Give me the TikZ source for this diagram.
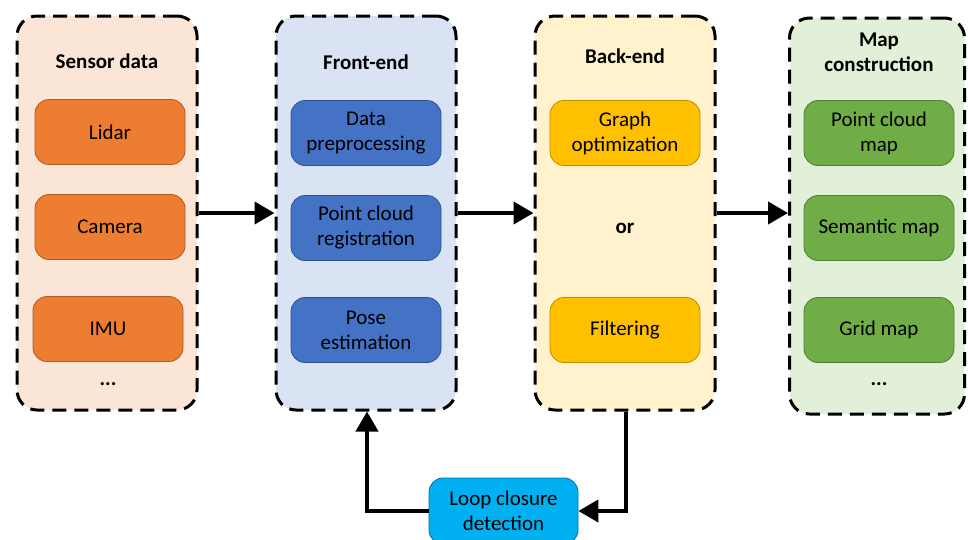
\documentclass[tikz,border=0pt]{standalone}
\usepackage{fontspec}
\setmainfont{Carlito}
\usetikzlibrary{arrows.meta}
\definecolor{sensbg}{HTML}{FBE5D6}
\definecolor{sensin}{HTML}{ED7D31}
\definecolor{sensln}{HTML}{AE5A21}
\definecolor{frontbg}{HTML}{DAE3F3}
\definecolor{frontin}{HTML}{4472C4}
\definecolor{frontln}{HTML}{2F528F}
\definecolor{backbg}{HTML}{FFF2CC}
\definecolor{backin}{HTML}{FFC000}
\definecolor{backln}{HTML}{BC8C00}
\definecolor{mapbg}{HTML}{E2F0D9}
\definecolor{mapin}{HTML}{70AD47}
\definecolor{mapln}{HTML}{507E32}
\definecolor{loopin}{HTML}{00B0F0}
\definecolor{loopln}{HTML}{0070A0}
\tikzset{
  outerbox/.style={draw=black, line width=3pt, dash pattern=on 14pt off 8pt,
    rounded corners=20pt, minimum width=180pt, minimum height=394pt, inner sep=0pt},
  innerbox/.style={line width=0.8pt, rounded corners=14pt, minimum width=150pt,
    minimum height=65pt, align=center, inner sep=0pt,
    font=\fontsize{21pt}{25pt}\selectfont},
  titletext/.style={align=center, font=\fontsize{21pt}{25pt}\selectfont\bfseries},
  flow/.style={line width=4pt, -{Triangle[length=20pt,width=22pt]}},
  plain/.style={line width=4pt}
}
\begin{document}
\begin{tikzpicture}[x=1pt,y=-1pt]
\useasboundingbox (0,0) rectangle (968,539);
% outer boxes
\node[outerbox, fill=sensbg] (sens) at (107,213) {};
\node[outerbox, fill=frontbg] (front) at (366,213) {};
\node[outerbox, fill=backbg] (back) at (625,213) {};
\node[outerbox, fill=mapbg, minimum width=175pt, minimum height=396pt] (map) at (877,216) {};
% titles
\node[titletext] (senst) at (107,61) {Sensor data};
\node[titletext] (frontt) at (366,62) {Front-end};
\node[titletext] (backt) at (625,56) {Back-end};
\node[titletext] (mapt) at (879,52) {Map\\construction};
% sensor
\node[innerbox, fill=sensin, draw=sensln] (lidar) at (110,132) {Lidar};
\node[innerbox, fill=sensin, draw=sensln] (camera) at (110,227) {Camera};
\node[innerbox, fill=sensin, draw=sensln] (imu) at (108,329) {IMU};
\node[titletext] (sdots) at (108,384) {...};
% front
\node[innerbox, fill=frontin, draw=frontln] (prep) at (366,133) {Data\\preprocessing};
\node[innerbox, fill=frontin, draw=frontln] (reg) at (366,228) {Point cloud\\registration};
\node[innerbox, fill=frontin, draw=frontln] (pose) at (366,330) {Pose\\estimation};
% back
\node[innerbox, fill=backin, draw=backln] (graph) at (625,133) {Graph\\optimization};
\node[titletext] (or) at (625,228) {or};
\node[innerbox, fill=backin, draw=backln] (filt) at (625,330) {Filtering};
% map
\node[innerbox, fill=mapin, draw=mapln] (pcmap) at (879,133) {Point cloud\\map};
\node[innerbox, fill=mapin, draw=mapln] (semmap) at (879,228) {Semantic map};
\node[innerbox, fill=mapin, draw=mapln] (gridmap) at (879,330) {Grid map};
\node[titletext] (mdots) at (879,384) {...};
% loop closure
\node[innerbox, fill=loopin, draw=loopln, minimum width=149pt, minimum height=66pt] (loop) at (503.5,511) {Loop closure\\detection};
% arrows
\draw[flow] (sens.east |- 0,213) -- (front.west |- 0,213);
\draw[flow] (front.east |- 0,213) -- (back.west |- 0,213);
\draw[flow] (back.east |- 0,213) -- (map.west |- 0,213);
\coordinate (bdown) at (626,511);
\coordinate (fup) at (367,511);
\draw[flow] (back.south -| bdown) -- (bdown) -- (loop.east);
\draw[flow] (loop.west) -- (fup) -- (front.south -| fup);
\end{tikzpicture}
\end{document}
